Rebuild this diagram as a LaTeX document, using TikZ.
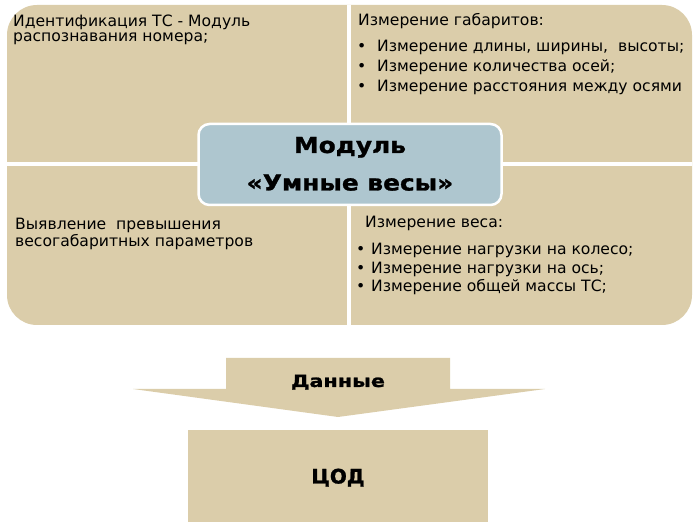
\documentclass[tikz,border=0pt]{standalone}
\usepackage{fontspec}
\setmainfont{DejaVu Sans}
\newfontfamily\widefont[FakeStretch=1.13,FakeBold=1.2]{DejaVu Sans}
\newfontfamily\widerfont[FakeStretch=1.22,FakeBold=1.2]{DejaVu Sans}
\newfontfamily\heavyfont[FakeBold=1.2]{DejaVu Sans}
\usetikzlibrary{positioning}
\definecolor{tan}{RGB}{219,205,170}
\definecolor{steel}{RGB}{174,198,207}

\begin{document}
\begin{tikzpicture}[x=1pt,y=-1pt,every node/.style={inner sep=0pt},
	txt/.style={anchor=base west,font=\fontsize{15.6}{18}\selectfont},
	widebold/.style={font=\fontsize{#1}{#1}\selectfont\widefont\bfseries}]
		\useasboundingbox (0,0) rectangle (697,529);

		% draw the four fields
		\fill[tan,rounded corners=30] (7,5) rectangle (692,325);
		\draw[white,line width=4] (348.5,5) to (348.5,325);
		\draw[white,line width=3.5] (7,164) to (692,164);

		% draw text of the upper left field
		\node (TL1) at (13,26.5) [txt] {Идентификация ТС - Модуль};
		\node (TL2) at (13,42) [txt] {распознавания номера;};

		% draw text of the upper right field
		\node (TR0) at (358,25.5) [txt] {Измерение габаритов:};
		\node (TR1) at (357,52) [txt] {\makebox[20pt][l]{\textbullet}Измерение длины, ширины,\ \ высоты;};
		\node (TR2) at (357,72) [txt] {\makebox[20pt][l]{\textbullet}Измерение количества осей;};
		\node (TR3) at (357,92) [txt] {\makebox[20pt][l]{\textbullet}Измерение расстояния между осями};

		% draw text of the lower left field
		\node (BL1) at (15,230) [txt] {Выявление\ \ превышения};
		\node (BL2) at (15,246.5) [txt] {весогабаритных параметров};

		% draw text of the lower right field
		\node (BR0) at (365,228) [txt] {Измерение веса:};
		\node (BR1) at (356,255) [txt] {\makebox[15pt][l]{\textbullet}Измерение нагрузки на колесо;};
		\node (BR2) at (356,273.5) [txt] {\makebox[15pt][l]{\textbullet}Измерение нагрузки на ось;};
		\node (BR3) at (356,292) [txt] {\makebox[15pt][l]{\textbullet}Измерение общей массы ТС;};

		% draw the module in the middle
		\node (M) at (350,164.5) [draw=white,line width=2.5,fill=steel,rounded corners=11,minimum width=303,minimum height=81] {};
		\node (M1) at (350,153) [anchor=base,widebold=22] {Модуль};
		\node (M2) at (350,190.5) [anchor=base,widebold=22] {«Умные весы»};

		% draw the data arrow
		\fill[tan] (226,358) -- (450,358) -- (450,389) -- (545,389) -- (338,417) -- (133,389) -- (226,389) -- cycle;
		\node (D) at (338,387) [anchor=base,font=\fontsize{17}{17}\selectfont\widerfont\bfseries] {Данные};

		% draw the data centre
		\node (C) at (338,476) [fill=tan,minimum width=300,minimum height=92,text height=15,text depth=0,font=\fontsize{20}{20}\selectfont\heavyfont\bfseries] {ЦОД};
	\end{tikzpicture}
\end{document}
